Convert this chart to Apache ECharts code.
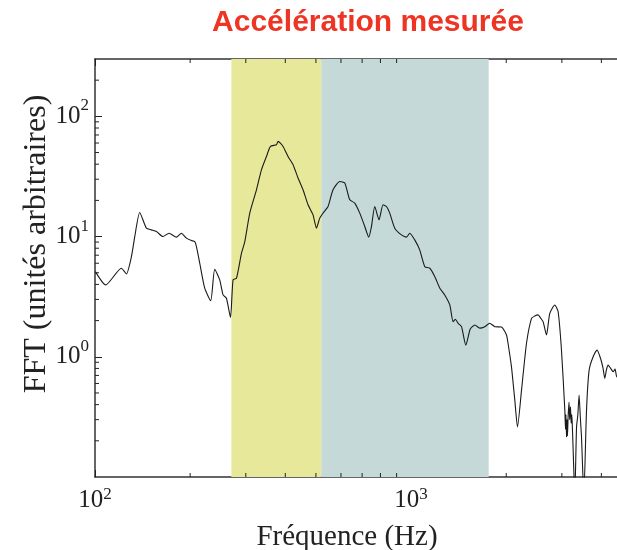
<!DOCTYPE html>
<html>
<head>
<meta charset="utf-8">
<script src="https://cdn.jsdelivr.net/npm/echarts@6.0.0/dist/echarts.min.js"></script>
<style>
  html, body { margin: 0; padding: 0; background: #ffffff; }
  #chart { width: 617px; height: 550px; }
</style>
</head>
<body>
<div id="chart"></div>
<script>
// Spectrum of the measured acceleration (FFT magnitude, arbitrary units)
const freqHz = [
  100.3, 108.1, 121.2, 125.7, 130.4, 133.6, 138.5, 145.4, 150.8, 156.4,
  164.1, 171.5, 180.9, 187.6, 194.6, 201.9, 206.8, 209.4, 214.5, 222.4,
  232.3, 239.2, 248.1, 254.2, 260.5, 268.3, 273.4, 280.3, 290.7, 297.8,
  308.8, 324.2, 336.2, 348.7, 359.1, 375.1, 379.5, 393.5, 408.1, 423.3,
  438.9, 455.2, 472.1, 489.6, 501.9, 514.1, 526.6, 546.1, 566.4, 594.9,
  617.0, 639.7, 663.5, 688.1, 713.7, 734.7, 749.3, 767.5, 791.9, 815.3,
  835.9, 856.2, 888.0, 932.4, 967.0, 990.6, 1027, 1065, 1105, 1146,
  1189, 1233, 1278, 1326, 1358, 1380, 1409, 1444, 1490, 1539, 1591,
  1650, 1711, 1774, 1841, 1932, 2004, 2027, 2078, 2129, 2171,
  2236, 2318, 2404, 2460, 2523, 2570, 2616, 2682, 2747, 2849, 2919, 2991,
  3065, 3080, 3090, 3103, 3115, 3125, 3139, 3160, 3175, 3194, 3210, 3225, 3241,
  3270, 3296, 3338, 3370, 3401, 3430, 3461, 3520,
  3590, 3659, 3767, 3878, 3950, 4004, 4050, 4102, 4150, 4202, 4280, 4358, 4420, 4477, 4600
];
const fftAmp = [
  5.11, 3.96, 5.45, 4.89, 6.81, 10.0, 15.85, 11.75, 11.37, 11.01,
  10.0, 10.67, 9.89, 10.67, 9.70, 9.26, 9.08, 8.25, 6.00, 3.72,
  2.93, 5.35, 4.36, 3.27, 3.07, 2.13, 4.36, 4.50, 7.27, 9.08,
  15.67, 24.5, 35.9, 46.4, 56.2, 58.1, 61.9, 56.2, 46.4, 39.6,
  30.7, 24.5, 18.37, 15.17, 11.75, 14.23, 15.67, 17.78, 24.5, 28.7,
  27.9, 20.2, 19.0, 15.67, 12.12, 9.89, 12.12, 17.78, 13.78, 18.37,
  17.78, 15.67, 11.75, 10.33, 9.89, 10.67, 9.39, 7.75, 5.62, 5.45,
  4.64, 3.72, 3.27, 2.70, 1.96, 2.05, 1.90, 1.78, 1.25, 1.70, 1.84,
  1.73, 1.78, 1.90, 1.78, 1.77, 1.52, 1.29, 0.825, 0.436, 0.261,
  0.528, 1.29, 2.09, 2.18, 2.23, 2.10, 1.96, 1.52, 2.30, 2.70, 2.37, 1.14,
  0.360, 0.250, 0.330, 0.215, 0.300, 0.220, 0.316, 0.420, 0.300, 0.383, 0.280, 0.330, 0.245,
  0.120, 0.07, 0.261, 0.330, 0.480, 0.320, 0.215, 0.07,
  0.360, 0.775, 1.0, 1.14, 1.02, 0.909, 0.800, 0.661, 0.780, 0.853, 0.800, 0.750, 0.790, 0.681, 0.72
];

// Frequency bands highlighted behind the curve (Hz)
const bandLow = [270, 520];
const bandHigh = [520, 1760];

// Axis ranges and minor tick positions
const xRange = [100, 5000];
const yRange = [0.1, 300];
const xMinorTicks = [200, 300, 400, 500, 600, 700, 800, 900, 2000, 3000, 4000];
const yMinorTicks = [0.2, 0.3, 0.4, 0.5, 0.6, 0.7, 0.8, 0.9,
                     2, 3, 4, 5, 6, 7, 8, 9,
                     20, 30, 40, 50, 60, 70, 80, 90, 200];

const INK = '#222222';
const SERIF = '"Liberation Serif", "DejaVu Serif", serif';
const MINOR_LEN = 4;

function powerLabel(v) {
  const e = Math.log10(v);
  const r = Math.round(e);
  if (Math.abs(e - r) > 1e-6 || r < 0) return '';
  return '{b|10}{s|' + r + '}';
}

function richFor(baseLineHeight) {
  return {
    b: { fontFamily: SERIF, fontSize: 25, color: INK, lineHeight: baseLineHeight },
    s: { fontFamily: SERIF, fontSize: 17, color: INK, lineHeight: 17, verticalAlign: 'top' }
  };
}

const frameLine = { show: true, lineStyle: { color: '#333333', width: 1.5 } };
const majorTick = { show: true, inside: true, length: 7, lineStyle: { color: INK, width: 1 } };

const chart = echarts.init(document.getElementById('chart'), null, { renderer: 'canvas' });

chart.setOption({
  animation: false,
  backgroundColor: '#ffffff',
  grid: { left: 95, top: 59, width: 537, height: 418, containLabel: false, outerBoundsMode: 'none' },
  xAxis: [
    {
      type: 'log', logBase: 10, min: xRange[0], max: xRange[1], position: 'bottom',
      axisLine: frameLine, axisTick: majorTick, splitLine: { show: false },
      axisLabel: {
        margin: 9, showMaxLabel: false, formatter: powerLabel, rich: richFor(28)
      }
    },
    {
      type: 'log', logBase: 10, min: xRange[0], max: xRange[1], position: 'top',
      axisLine: frameLine, axisTick: majorTick, splitLine: { show: false },
      axisLabel: { show: false }
    }
  ],
  yAxis: [
    {
      type: 'log', logBase: 10, min: yRange[0], max: yRange[1], position: 'left',
      axisLine: frameLine, axisTick: majorTick, splitLine: { show: false },
      axisLabel: {
        margin: 6, showMinLabel: false, showMaxLabel: false,
        formatter: powerLabel, rich: richFor(38)
      }
    }
  ],
  graphic: [
    {
      type: 'text', x: 368, y: 23, silent: true,
      style: {
        text: 'Accélération mesurée', fill: '#ee3524',
        font: 'bold 30px "Liberation Sans", Arial, sans-serif',
        align: 'center', verticalAlign: 'middle'
      }
    },
    {
      type: 'text', x: 347, y: 537, silent: true,
      style: {
        text: 'Fréquence (Hz)', fill: INK, font: '29px ' + SERIF,
        align: 'center', verticalAlign: 'middle'
      }
    },
    {
      type: 'text', x: 37, y: 244, rotation: Math.PI / 2, silent: true,
      style: {
        text: 'FFT (unités arbitraires)', fill: INK, font: '32px ' + SERIF,
        align: 'center', verticalAlign: 'middle'
      }
    }
  ],
  series: [
    {
      type: 'line',
      xAxisIndex: 0, yAxisIndex: 0,
      data: freqHz.map((f, i) => [f, fftAmp[i]]),
      showSymbol: false, symbol: 'none', smooth: 0.2,
      lineStyle: { color: '#1a1a1a', width: 1.1 },
      z: 3,
      markArea: {
        silent: true,
        data: [
          [{ xAxis: bandLow[0], itemStyle: { color: '#e8e89b', opacity: 1 } }, { xAxis: bandLow[1] }],
          [{ xAxis: bandHigh[0], itemStyle: { color: '#c5d9d8', opacity: 1 } }, { xAxis: bandHigh[1] }]
        ]
      }
    },
    {
      // minor ticks on the frequency axis, bottom and top edges
      type: 'custom', xAxisIndex: 0, yAxisIndex: 0, silent: true, clip: false, z: 5,
      data: xMinorTicks.map(f => [f, yRange[0]]),
      renderItem(params, api) {
        const f = api.value(0);
        const b = api.coord([f, yRange[0]]);
        const t = api.coord([f, yRange[1]]);
        return {
          type: 'group',
          children: [
            { type: 'line', shape: { x1: b[0], y1: b[1], x2: b[0], y2: b[1] - MINOR_LEN }, style: { stroke: INK, lineWidth: 1 } },
            { type: 'line', shape: { x1: t[0], y1: t[1], x2: t[0], y2: t[1] + MINOR_LEN }, style: { stroke: INK, lineWidth: 1 } }
          ]
        };
      }
    },
    {
      // minor ticks on the amplitude axis
      type: 'custom', xAxisIndex: 0, yAxisIndex: 0, silent: true, clip: false, z: 5,
      data: yMinorTicks.map(v => [xRange[0], v]),
      renderItem(params, api) {
        const p = api.coord([xRange[0], api.value(1)]);
        return {
          type: 'line',
          shape: { x1: p[0], y1: p[1], x2: p[0] + MINOR_LEN, y2: p[1] },
          style: { stroke: INK, lineWidth: 1 }
        };
      }
    }
  ]
});
</script>
</body>
</html>
